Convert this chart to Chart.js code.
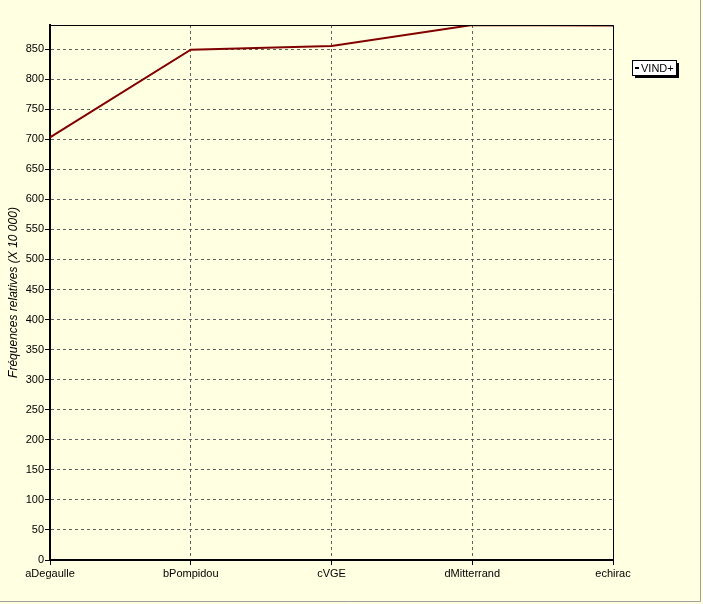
<!DOCTYPE html>
<html>
<head>
<meta charset="utf-8">
<script src="https://cdn.jsdelivr.net/npm/chart.js@4"></script>
<style>
  html, body { margin: 0; padding: 0; background: #ffffe1; }
  #wrap { width: 703px; height: 604px; }
</style>
</head>
<body>
<div id="wrap"><canvas id="myChart" width="703" height="604"></canvas></div>
<script>
const categories = ['aDegaulle', 'bPompidou', 'cVGE', 'dMitterrand', 'echirac'];
const vindValues = [703, 849, 855, 890, 889];
const seriesLabel = 'VIND+';
const yTitle = 'Fréquences relatives (X 10 000)';
const yMax = 890;
const yStep = 50;

// fond, cadre, bordure de fenetre et legende dessines a la main
const decor = {
    id: 'decor',
    beforeDraw(chart) {
        const c = chart.ctx;
        c.save();
        c.fillStyle = '#ffffe1';
        c.fillRect(0, 0, chart.width, chart.height);
        c.restore();
    },
    afterDraw(chart) {
        const c = chart.ctx;
        const a = chart.chartArea;
        c.save();
        // cadre du graphique
        c.strokeStyle = '#000';
        c.lineWidth = 1;
        c.beginPath();
        c.moveTo(a.left, a.top + 0.5);
        c.lineTo(a.right + 0.5, a.top + 0.5);
        c.lineTo(a.right + 0.5, a.bottom);
        c.stroke();
        // bordure de fenetre
        c.strokeStyle = '#a0a0a0';
        c.beginPath();
        c.moveTo(700.5, 0);
        c.lineTo(700.5, 601.5);
        c.lineTo(0, 601.5);
        c.stroke();
        // legende
        const lx = 632, ly = 60, lw = 44, lh = 15;
        c.fillStyle = '#000';
        c.fillRect(lx + 3, ly + 3, lw, lh);
        c.fillStyle = '#fff';
        c.fillRect(lx, ly, lw, lh);
        c.strokeStyle = '#000';
        c.strokeRect(lx + 0.5, ly + 0.5, lw, lh);
        c.lineWidth = 2;
        c.beginPath();
        c.moveTo(lx + 3, ly + 8);
        c.lineTo(lx + 7, ly + 8);
        c.stroke();
        c.fillStyle = '#000';
        c.font = '11px "Liberation Sans", Arial, sans-serif';
        c.textBaseline = 'middle';
        c.fillText(seriesLabel, lx + 9, ly + 8.5);
        c.restore();
    }
};

const ctx = document.getElementById('myChart').getContext('2d');
const myChart = new Chart(ctx, {
    type: 'line',
    data: {
        labels: categories,
        datasets: [{
            label: seriesLabel,
            data: vindValues,
            borderColor: '#800000',
            backgroundColor: '#800000',
            borderWidth: 2,
            pointRadius: 0,
            tension: 0
        }]
    },
    options: {
        responsive: false,
        animation: false,
        layout: { padding: { left: 0, top: 25, right: 90, bottom: 0 } },
        plugins: {
            legend: { display: false },
            tooltip: { enabled: false }
        },
        scales: {
            x: {
                offset: false,
                grid: {
                    color: '#606060',
                    tickLength: 5,
                    tickBorderDash: [],
                    tickColor: '#000'
                },
                border: { color: '#000', width: 2, dash: [3, 3] },
                ticks: {
                    color: '#000',
                    maxRotation: 0,
                    padding: 2,
                    font: { family: '"Liberation Sans", Arial, sans-serif', size: 11 }
                },
                afterFit(scale) { scale.height = 44; }
            },
            y: {
                min: 0,
                max: yMax,
                ticks: {
                    stepSize: yStep,
                    color: '#000',
                    padding: 1,
                    font: { family: '"Liberation Sans", Arial, sans-serif', size: 11 }
                },
                afterBuildTicks(scale) {
                    scale.ticks = scale.ticks.filter(t => t.value % yStep === 0);
                },
                grid: {
                    color: '#606060',
                    tickLength: 5,
                    tickBorderDash: [],
                    tickColor: '#000'
                },
                border: { color: '#000', width: 2, dash: [3, 3] },
                title: {
                    display: true,
                    text: yTitle,
                    color: '#000',
                    padding: { top: 6, bottom: 0 },
                    font: { family: '"Liberation Sans", Arial, sans-serif', size: 12, style: 'italic' }
                },
                afterFit(scale) { scale.width = 50; }
            }
        }
    },
    plugins: [decor]
});
</script>
</body>
</html>
